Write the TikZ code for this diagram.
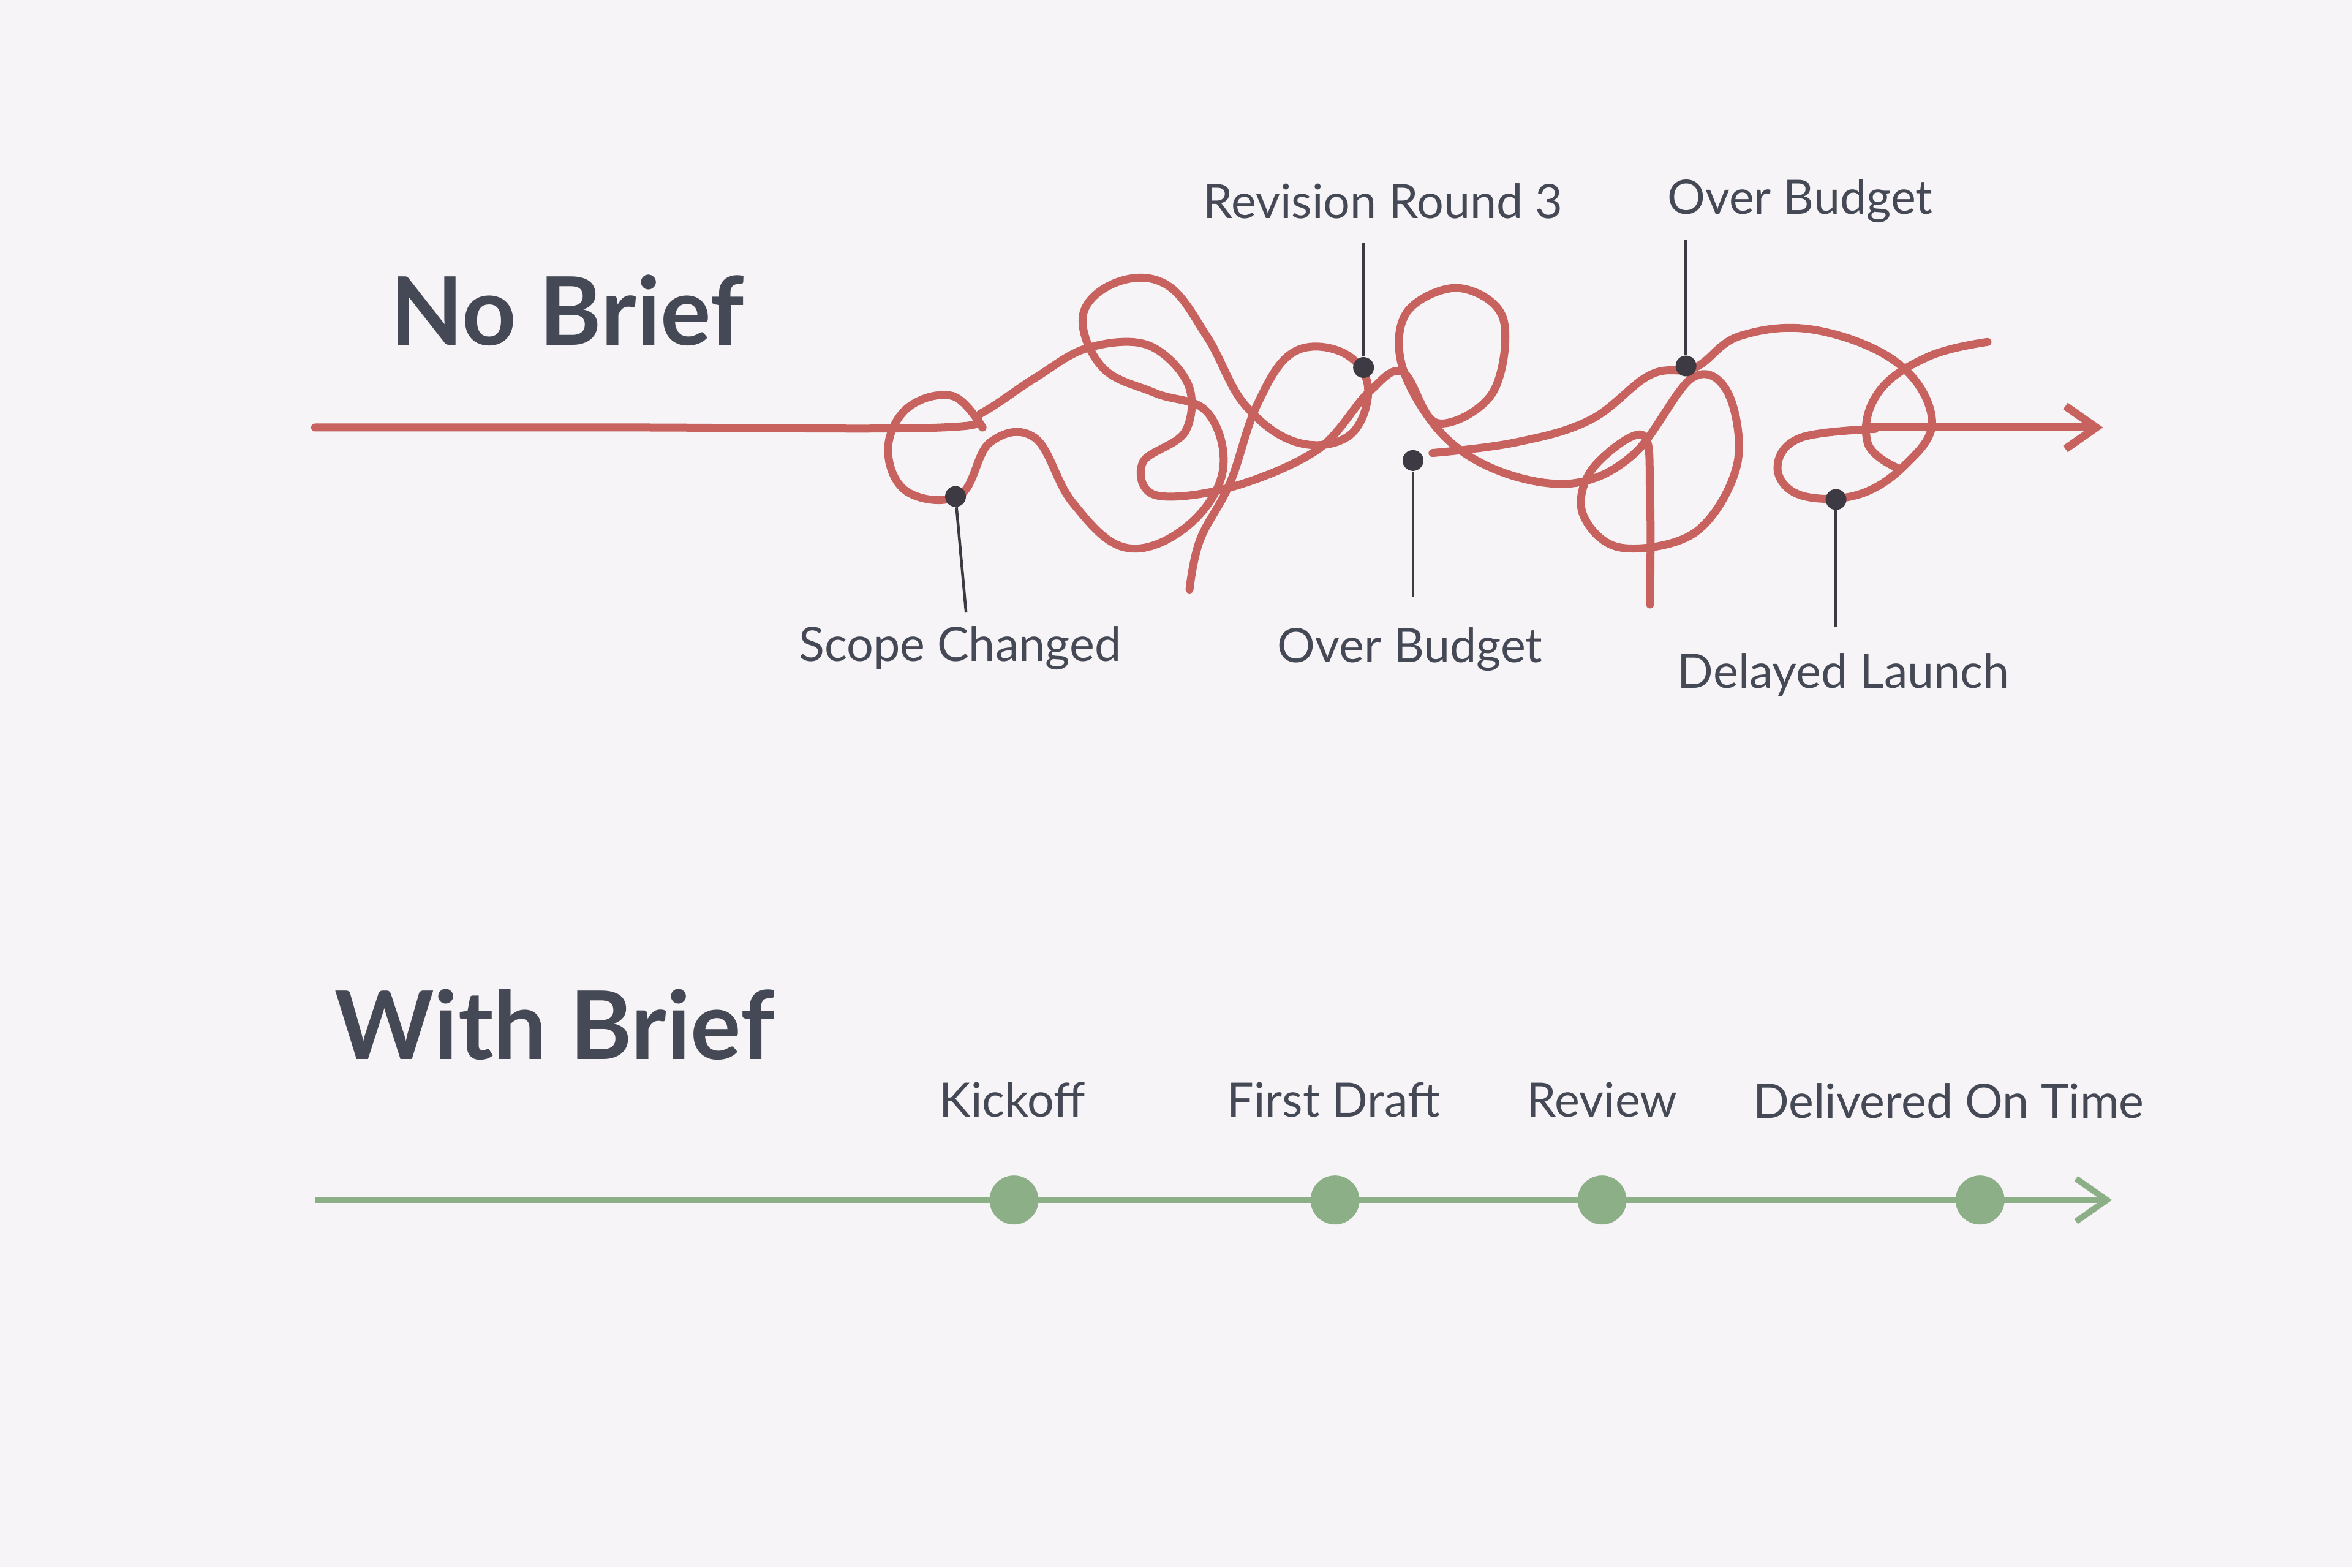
\documentclass[tikz,border=0pt]{standalone}
\usepackage{fontspec}
\setmainfont{Lato}
\usetikzlibrary{arrows.meta}
\definecolor{bgc}{HTML}{F6F4F6}
\definecolor{redc}{HTML}{C8625E}
\definecolor{greenc}{HTML}{8DAF88}
\definecolor{txt}{HTML}{454955}
\definecolor{pin}{HTML}{3E3A44}
\tikzset{
  tangle/.style={draw=redc,line width=1.3mm,line cap=round,line join=round},
  calm/.style={draw=greenc,line width=1.0mm},
  pinline/.style={draw=pin,line width=0.45mm},
  pindot/.style={circle,fill=pin,inner sep=0pt,minimum size=3.4mm},
  gdot/.style={circle,fill=greenc,inner sep=0pt,minimum size=8mm},
  lbl/.style={text=txt,font=\fontsize{22}{26}\selectfont,inner sep=0pt},
  ttl/.style={text=txt,font=\fontsize{44}{50}\selectfont\bfseries,inner sep=0pt,anchor=west}
}
\begin{document}
\begin{tikzpicture}[x=0.2449mm,y=-0.2449mm]
\fill[bgc] (0,0) rectangle (1568,1045);
\useasboundingbox (0,0) rectangle (1568,1045);
\node[ttl] (t1) at (260,207) {No Brief};
\node[ttl] (t2) at (223,683) {With Brief};
% red tangle
\coordinate (rs) at (210,285);
\draw[tangle] plot[smooth,tension=0.6] coordinates {(210,285) (420,285) (628,285) (655,275) (690,252) (725,232) (765,230) (792,256) (790,288) (762,308) (770,330) (820,325) (878,300) (912,262) (935,248) (958,282) (995,262) (1002,212) (972,192) (938,208) (935,245) (962,290) (1002,315) (1050,322) (1090,302) (1128,252) (1152,262) (1158,310) (1130,355) (1080,365) (1055,342) (1062,312) (1095,290) (1100,330) (1100,403)};
\draw[tangle] plot[smooth,tension=0.65] coordinates {(655,285) (635,264) (605,272) (592,300) (605,328) (640,330) (660,295) (690,292) (715,335) (750,365) (790,352) (815,315) (805,275) (770,262) (735,245) (722,210) (745,188) (778,190) (805,225) (830,270) (865,295) (900,290) (912,258) (895,235) (862,235) (838,270) (820,322) (800,360) (793,393)};
\draw[tangle] plot[smooth,tension=0.65] coordinates {(955,302) (1010,295) (1060,280) (1100,250) (1130,245) (1160,224) (1210,220) (1265,242) (1288,280) (1270,310) (1238,330) (1200,330) (1185,312) (1200,292) (1250,286)};
\draw[tangle] plot[smooth,tension=0.7] coordinates {(1325,228) (1285,238) (1252,262) (1245,295) (1265,312)};
\draw[tangle,-{Straight Barb[length=5mm,width=7mm]}] (1245,285) -- (1402,285);
% pins
\node[pindot] (p1) at (637,331) {};
\node[pindot] (p2) at (909,245) {};
\node[pindot] (p3) at (942,307) {};
\node[pindot] (p4) at (1124,244) {};
\node[pindot] (p5) at (1224,333) {};
\coordinate (e1) at (644,408);
\coordinate (e2) at (909,162);
\coordinate (e3) at (942,398);
\coordinate (e4) at (1124,160);
\coordinate (e5) at (1224,418);
\foreach \i in {1,...,5} \draw[pinline] (p\i) -- (e\i);
\node[lbl] (l1) at (640,432) {Scope Changed};
\node[lbl] (l2) at (922,134) {Revision Round 3};
\node[lbl] (l3) at (940,433) {Over Budget};
\node[lbl] (l4) at (1200,134) {Over Budget};
\node[lbl] (l5) at (1229,450) {Delayed Launch};
% green
\coordinate (gs) at (210,800);
\coordinate (ge) at (1408,800);
\draw[calm,-{Straight Barb[length=5mm,width=7mm]}] (gs) -- (ge);
\node[gdot] (g1) at (676,800) {};
\node[gdot] (g2) at (890,800) {};
\node[gdot] (g3) at (1068,800) {};
\node[gdot] (g4) at (1320,800) {};
\node[lbl] (k1) at (675,733) {Kickoff};
\node[lbl] (k2) at (889,733) {First Draft};
\node[lbl] (k3) at (1068,733) {Review};
\node[lbl] (k4) at (1299,734) {Delivered On Time};
\end{tikzpicture}
\end{document}
